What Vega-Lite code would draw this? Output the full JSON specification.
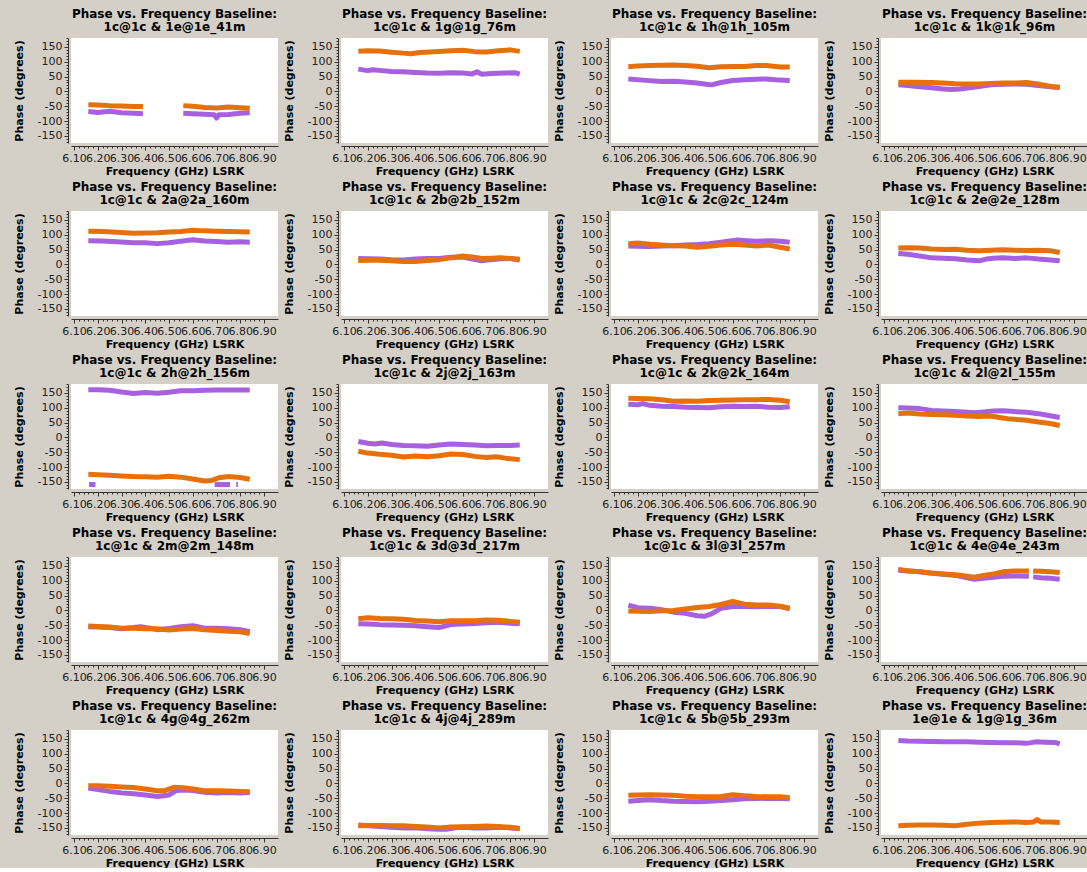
{
"$schema": "https://vega.github.io/schema/vega-lite/v6.json",
"background": "#d4d0c8",
"padding": {"left": 13, "top": 7, "right": 0, "bottom": 0},
"data": {"values": [
{"n":"1c@1c & 1e@1e_41m","c":"P","g":1,"f":6.16,"v":-68},{"n":"1c@1c & 1e@1e_41m","c":"P","g":1,"f":6.20,"v":-71},{"n":"1c@1c & 1e@1e_41m","c":"P","g":1,"f":6.25,"v":-67},{"n":"1c@1c & 1e@1e_41m","c":"P","g":1,"f":6.30,"v":-72},{"n":"1c@1c & 1e@1e_41m","c":"P","g":1,"f":6.35,"v":-74},{"n":"1c@1c & 1e@1e_41m","c":"P","g":1,"f":6.39,"v":-75},
{"n":"1c@1c & 1e@1e_41m","c":"P","g":2,"f":6.56,"v":-74},{"n":"1c@1c & 1e@1e_41m","c":"P","g":2,"f":6.60,"v":-75},{"n":"1c@1c & 1e@1e_41m","c":"P","g":2,"f":6.65,"v":-77},{"n":"1c@1c & 1e@1e_41m","c":"P","g":2,"f":6.69,"v":-79},{"n":"1c@1c & 1e@1e_41m","c":"P","g":2,"f":6.70,"v":-90},{"n":"1c@1c & 1e@1e_41m","c":"P","g":2,"f":6.71,"v":-79},{"n":"1c@1c & 1e@1e_41m","c":"P","g":2,"f":6.75,"v":-78},{"n":"1c@1c & 1e@1e_41m","c":"P","g":2,"f":6.80,"v":-74},{"n":"1c@1c & 1e@1e_41m","c":"P","g":2,"f":6.84,"v":-72},
{"n":"1c@1c & 1e@1e_41m","c":"O","g":1,"f":6.16,"v":-45},{"n":"1c@1c & 1e@1e_41m","c":"O","g":1,"f":6.20,"v":-46},{"n":"1c@1c & 1e@1e_41m","c":"O","g":1,"f":6.25,"v":-48},{"n":"1c@1c & 1e@1e_41m","c":"O","g":1,"f":6.30,"v":-49},{"n":"1c@1c & 1e@1e_41m","c":"O","g":1,"f":6.35,"v":-51},{"n":"1c@1c & 1e@1e_41m","c":"O","g":1,"f":6.39,"v":-51},
{"n":"1c@1c & 1e@1e_41m","c":"O","g":2,"f":6.56,"v":-48},{"n":"1c@1c & 1e@1e_41m","c":"O","g":2,"f":6.60,"v":-50},{"n":"1c@1c & 1e@1e_41m","c":"O","g":2,"f":6.65,"v":-54},{"n":"1c@1c & 1e@1e_41m","c":"O","g":2,"f":6.70,"v":-56},{"n":"1c@1c & 1e@1e_41m","c":"O","g":2,"f":6.75,"v":-53},{"n":"1c@1c & 1e@1e_41m","c":"O","g":2,"f":6.80,"v":-55},{"n":"1c@1c & 1e@1e_41m","c":"O","g":2,"f":6.84,"v":-57},

{"n":"1c@1c & 1g@1g_76m","c":"P","f":6.16,"v":75},{"n":"1c@1c & 1g@1g_76m","c":"P","f":6.20,"v":70},{"n":"1c@1c & 1g@1g_76m","c":"P","f":6.22,"v":73},{"n":"1c@1c & 1g@1g_76m","c":"P","f":6.26,"v":70},{"n":"1c@1c & 1g@1g_76m","c":"P","f":6.30,"v":67},{"n":"1c@1c & 1g@1g_76m","c":"P","f":6.35,"v":66},{"n":"1c@1c & 1g@1g_76m","c":"P","f":6.40,"v":64},{"n":"1c@1c & 1g@1g_76m","c":"P","f":6.45,"v":62},{"n":"1c@1c & 1g@1g_76m","c":"P","f":6.50,"v":61},{"n":"1c@1c & 1g@1g_76m","c":"P","f":6.55,"v":63},{"n":"1c@1c & 1g@1g_76m","c":"P","f":6.60,"v":62},{"n":"1c@1c & 1g@1g_76m","c":"P","f":6.64,"v":59},{"n":"1c@1c & 1g@1g_76m","c":"P","f":6.66,"v":66},{"n":"1c@1c & 1g@1g_76m","c":"P","f":6.68,"v":58},{"n":"1c@1c & 1g@1g_76m","c":"P","f":6.72,"v":60},{"n":"1c@1c & 1g@1g_76m","c":"P","f":6.78,"v":62},{"n":"1c@1c & 1g@1g_76m","c":"P","f":6.82,"v":63},{"n":"1c@1c & 1g@1g_76m","c":"P","f":6.84,"v":58},
{"n":"1c@1c & 1g@1g_76m","c":"O","f":6.16,"v":135},{"n":"1c@1c & 1g@1g_76m","c":"O","f":6.20,"v":137},{"n":"1c@1c & 1g@1g_76m","c":"O","f":6.25,"v":136},{"n":"1c@1c & 1g@1g_76m","c":"O","f":6.30,"v":132},{"n":"1c@1c & 1g@1g_76m","c":"O","f":6.35,"v":129},{"n":"1c@1c & 1g@1g_76m","c":"O","f":6.38,"v":127},{"n":"1c@1c & 1g@1g_76m","c":"O","f":6.42,"v":131},{"n":"1c@1c & 1g@1g_76m","c":"O","f":6.48,"v":134},{"n":"1c@1c & 1g@1g_76m","c":"O","f":6.55,"v":137},{"n":"1c@1c & 1g@1g_76m","c":"O","f":6.60,"v":139},{"n":"1c@1c & 1g@1g_76m","c":"O","f":6.65,"v":134},{"n":"1c@1c & 1g@1g_76m","c":"O","f":6.70,"v":133},{"n":"1c@1c & 1g@1g_76m","c":"O","f":6.75,"v":137},{"n":"1c@1c & 1g@1g_76m","c":"O","f":6.80,"v":140},{"n":"1c@1c & 1g@1g_76m","c":"O","f":6.84,"v":135},

{"n":"1c@1c & 1h@1h_105m","c":"P","f":6.16,"v":42},{"n":"1c@1c & 1h@1h_105m","c":"P","f":6.22,"v":38},{"n":"1c@1c & 1h@1h_105m","c":"P","f":6.30,"v":33},{"n":"1c@1c & 1h@1h_105m","c":"P","f":6.35,"v":34},{"n":"1c@1c & 1h@1h_105m","c":"P","f":6.40,"v":32},{"n":"1c@1c & 1h@1h_105m","c":"P","f":6.45,"v":28},{"n":"1c@1c & 1h@1h_105m","c":"P","f":6.48,"v":25},{"n":"1c@1c & 1h@1h_105m","c":"P","f":6.51,"v":22},{"n":"1c@1c & 1h@1h_105m","c":"P","f":6.55,"v":30},{"n":"1c@1c & 1h@1h_105m","c":"P","f":6.60,"v":37},{"n":"1c@1c & 1h@1h_105m","c":"P","f":6.65,"v":39},{"n":"1c@1c & 1h@1h_105m","c":"P","f":6.70,"v":41},{"n":"1c@1c & 1h@1h_105m","c":"P","f":6.74,"v":42},{"n":"1c@1c & 1h@1h_105m","c":"P","f":6.78,"v":39},{"n":"1c@1c & 1h@1h_105m","c":"P","f":6.84,"v":37},
{"n":"1c@1c & 1h@1h_105m","c":"O","f":6.16,"v":83},{"n":"1c@1c & 1h@1h_105m","c":"O","f":6.20,"v":86},{"n":"1c@1c & 1h@1h_105m","c":"O","f":6.25,"v":87},{"n":"1c@1c & 1h@1h_105m","c":"O","f":6.30,"v":88},{"n":"1c@1c & 1h@1h_105m","c":"O","f":6.35,"v":89},{"n":"1c@1c & 1h@1h_105m","c":"O","f":6.40,"v":87},{"n":"1c@1c & 1h@1h_105m","c":"O","f":6.45,"v":85},{"n":"1c@1c & 1h@1h_105m","c":"O","f":6.50,"v":80},{"n":"1c@1c & 1h@1h_105m","c":"O","f":6.55,"v":83},{"n":"1c@1c & 1h@1h_105m","c":"O","f":6.60,"v":84},{"n":"1c@1c & 1h@1h_105m","c":"O","f":6.65,"v":84},{"n":"1c@1c & 1h@1h_105m","c":"O","f":6.70,"v":87},{"n":"1c@1c & 1h@1h_105m","c":"O","f":6.74,"v":87},{"n":"1c@1c & 1h@1h_105m","c":"O","f":6.80,"v":82},{"n":"1c@1c & 1h@1h_105m","c":"O","f":6.84,"v":82},

{"n":"1c@1c & 1k@1k_96m","c":"P","f":6.16,"v":22},{"n":"1c@1c & 1k@1k_96m","c":"P","f":6.20,"v":20},{"n":"1c@1c & 1k@1k_96m","c":"P","f":6.25,"v":16},{"n":"1c@1c & 1k@1k_96m","c":"P","f":6.30,"v":12},{"n":"1c@1c & 1k@1k_96m","c":"P","f":6.35,"v":8},{"n":"1c@1c & 1k@1k_96m","c":"P","f":6.38,"v":6},{"n":"1c@1c & 1k@1k_96m","c":"P","f":6.42,"v":8},{"n":"1c@1c & 1k@1k_96m","c":"P","f":6.46,"v":12},{"n":"1c@1c & 1k@1k_96m","c":"P","f":6.50,"v":16},{"n":"1c@1c & 1k@1k_96m","c":"P","f":6.55,"v":22},{"n":"1c@1c & 1k@1k_96m","c":"P","f":6.60,"v":24},{"n":"1c@1c & 1k@1k_96m","c":"P","f":6.65,"v":25},{"n":"1c@1c & 1k@1k_96m","c":"P","f":6.70,"v":24},{"n":"1c@1c & 1k@1k_96m","c":"P","f":6.75,"v":20},{"n":"1c@1c & 1k@1k_96m","c":"P","f":6.80,"v":16},{"n":"1c@1c & 1k@1k_96m","c":"P","f":6.84,"v":13},
{"n":"1c@1c & 1k@1k_96m","c":"O","f":6.16,"v":31},{"n":"1c@1c & 1k@1k_96m","c":"O","f":6.22,"v":31},{"n":"1c@1c & 1k@1k_96m","c":"O","f":6.30,"v":30},{"n":"1c@1c & 1k@1k_96m","c":"O","f":6.35,"v":28},{"n":"1c@1c & 1k@1k_96m","c":"O","f":6.40,"v":26},{"n":"1c@1c & 1k@1k_96m","c":"O","f":6.45,"v":25},{"n":"1c@1c & 1k@1k_96m","c":"O","f":6.50,"v":25},{"n":"1c@1c & 1k@1k_96m","c":"O","f":6.55,"v":27},{"n":"1c@1c & 1k@1k_96m","c":"O","f":6.60,"v":28},{"n":"1c@1c & 1k@1k_96m","c":"O","f":6.65,"v":28},{"n":"1c@1c & 1k@1k_96m","c":"O","f":6.70,"v":30},{"n":"1c@1c & 1k@1k_96m","c":"O","f":6.74,"v":26},{"n":"1c@1c & 1k@1k_96m","c":"O","f":6.78,"v":20},{"n":"1c@1c & 1k@1k_96m","c":"O","f":6.81,"v":16},{"n":"1c@1c & 1k@1k_96m","c":"O","f":6.84,"v":14},

{"n":"1c@1c & 2a@2a_160m","c":"P","f":6.16,"v":80},{"n":"1c@1c & 2a@2a_160m","c":"P","f":6.22,"v":79},{"n":"1c@1c & 2a@2a_160m","c":"P","f":6.28,"v":76},{"n":"1c@1c & 2a@2a_160m","c":"P","f":6.35,"v":73},{"n":"1c@1c & 2a@2a_160m","c":"P","f":6.40,"v":73},{"n":"1c@1c & 2a@2a_160m","c":"P","f":6.45,"v":70},{"n":"1c@1c & 2a@2a_160m","c":"P","f":6.50,"v":73},{"n":"1c@1c & 2a@2a_160m","c":"P","f":6.55,"v":78},{"n":"1c@1c & 2a@2a_160m","c":"P","f":6.60,"v":83},{"n":"1c@1c & 2a@2a_160m","c":"P","f":6.65,"v":79},{"n":"1c@1c & 2a@2a_160m","c":"P","f":6.70,"v":77},{"n":"1c@1c & 2a@2a_160m","c":"P","f":6.75,"v":75},{"n":"1c@1c & 2a@2a_160m","c":"P","f":6.80,"v":76},{"n":"1c@1c & 2a@2a_160m","c":"P","f":6.84,"v":75},
{"n":"1c@1c & 2a@2a_160m","c":"O","f":6.16,"v":112},{"n":"1c@1c & 2a@2a_160m","c":"O","f":6.22,"v":111},{"n":"1c@1c & 2a@2a_160m","c":"O","f":6.28,"v":108},{"n":"1c@1c & 2a@2a_160m","c":"O","f":6.35,"v":105},{"n":"1c@1c & 2a@2a_160m","c":"O","f":6.40,"v":106},{"n":"1c@1c & 2a@2a_160m","c":"O","f":6.45,"v":107},{"n":"1c@1c & 2a@2a_160m","c":"O","f":6.50,"v":109},{"n":"1c@1c & 2a@2a_160m","c":"O","f":6.55,"v":111},{"n":"1c@1c & 2a@2a_160m","c":"O","f":6.60,"v":115},{"n":"1c@1c & 2a@2a_160m","c":"O","f":6.65,"v":113},{"n":"1c@1c & 2a@2a_160m","c":"O","f":6.70,"v":112},{"n":"1c@1c & 2a@2a_160m","c":"O","f":6.75,"v":111},{"n":"1c@1c & 2a@2a_160m","c":"O","f":6.80,"v":110},{"n":"1c@1c & 2a@2a_160m","c":"O","f":6.84,"v":109},

{"n":"1c@1c & 2b@2b_152m","c":"P","f":6.16,"v":20},{"n":"1c@1c & 2b@2b_152m","c":"P","f":6.20,"v":19},{"n":"1c@1c & 2b@2b_152m","c":"P","f":6.25,"v":18},{"n":"1c@1c & 2b@2b_152m","c":"P","f":6.30,"v":16},{"n":"1c@1c & 2b@2b_152m","c":"P","f":6.35,"v":15},{"n":"1c@1c & 2b@2b_152m","c":"P","f":6.40,"v":18},{"n":"1c@1c & 2b@2b_152m","c":"P","f":6.45,"v":20},{"n":"1c@1c & 2b@2b_152m","c":"P","f":6.50,"v":20},{"n":"1c@1c & 2b@2b_152m","c":"P","f":6.55,"v":24},{"n":"1c@1c & 2b@2b_152m","c":"P","f":6.60,"v":25},{"n":"1c@1c & 2b@2b_152m","c":"P","f":6.64,"v":18},{"n":"1c@1c & 2b@2b_152m","c":"P","f":6.68,"v":12},{"n":"1c@1c & 2b@2b_152m","c":"P","f":6.72,"v":16},{"n":"1c@1c & 2b@2b_152m","c":"P","f":6.76,"v":19},{"n":"1c@1c & 2b@2b_152m","c":"P","f":6.80,"v":20},{"n":"1c@1c & 2b@2b_152m","c":"P","f":6.84,"v":15},
{"n":"1c@1c & 2b@2b_152m","c":"O","f":6.16,"v":13},{"n":"1c@1c & 2b@2b_152m","c":"O","f":6.20,"v":14},{"n":"1c@1c & 2b@2b_152m","c":"O","f":6.25,"v":14},{"n":"1c@1c & 2b@2b_152m","c":"O","f":6.30,"v":12},{"n":"1c@1c & 2b@2b_152m","c":"O","f":6.35,"v":10},{"n":"1c@1c & 2b@2b_152m","c":"O","f":6.40,"v":10},{"n":"1c@1c & 2b@2b_152m","c":"O","f":6.45,"v":13},{"n":"1c@1c & 2b@2b_152m","c":"O","f":6.50,"v":16},{"n":"1c@1c & 2b@2b_152m","c":"O","f":6.55,"v":22},{"n":"1c@1c & 2b@2b_152m","c":"O","f":6.60,"v":28},{"n":"1c@1c & 2b@2b_152m","c":"O","f":6.64,"v":25},{"n":"1c@1c & 2b@2b_152m","c":"O","f":6.68,"v":20},{"n":"1c@1c & 2b@2b_152m","c":"O","f":6.72,"v":21},{"n":"1c@1c & 2b@2b_152m","c":"O","f":6.76,"v":22},{"n":"1c@1c & 2b@2b_152m","c":"O","f":6.80,"v":20},{"n":"1c@1c & 2b@2b_152m","c":"O","f":6.84,"v":17},

{"n":"1c@1c & 2c@2c_124m","c":"P","f":6.16,"v":62},{"n":"1c@1c & 2c@2c_124m","c":"P","f":6.20,"v":61},{"n":"1c@1c & 2c@2c_124m","c":"P","f":6.25,"v":60},{"n":"1c@1c & 2c@2c_124m","c":"P","f":6.30,"v":62},{"n":"1c@1c & 2c@2c_124m","c":"P","f":6.35,"v":63},{"n":"1c@1c & 2c@2c_124m","c":"P","f":6.40,"v":65},{"n":"1c@1c & 2c@2c_124m","c":"P","f":6.45,"v":67},{"n":"1c@1c & 2c@2c_124m","c":"P","f":6.50,"v":70},{"n":"1c@1c & 2c@2c_124m","c":"P","f":6.55,"v":75},{"n":"1c@1c & 2c@2c_124m","c":"P","f":6.58,"v":78},{"n":"1c@1c & 2c@2c_124m","c":"P","f":6.62,"v":82},{"n":"1c@1c & 2c@2c_124m","c":"P","f":6.66,"v":80},{"n":"1c@1c & 2c@2c_124m","c":"P","f":6.70,"v":78},{"n":"1c@1c & 2c@2c_124m","c":"P","f":6.76,"v":80},{"n":"1c@1c & 2c@2c_124m","c":"P","f":6.80,"v":78},{"n":"1c@1c & 2c@2c_124m","c":"P","f":6.84,"v":75},
{"n":"1c@1c & 2c@2c_124m","c":"O","f":6.16,"v":70},{"n":"1c@1c & 2c@2c_124m","c":"O","f":6.20,"v":72},{"n":"1c@1c & 2c@2c_124m","c":"O","f":6.25,"v":68},{"n":"1c@1c & 2c@2c_124m","c":"O","f":6.30,"v":65},{"n":"1c@1c & 2c@2c_124m","c":"O","f":6.35,"v":63},{"n":"1c@1c & 2c@2c_124m","c":"O","f":6.40,"v":62},{"n":"1c@1c & 2c@2c_124m","c":"O","f":6.45,"v":58},{"n":"1c@1c & 2c@2c_124m","c":"O","f":6.50,"v":61},{"n":"1c@1c & 2c@2c_124m","c":"O","f":6.55,"v":65},{"n":"1c@1c & 2c@2c_124m","c":"O","f":6.60,"v":68},{"n":"1c@1c & 2c@2c_124m","c":"O","f":6.65,"v":65},{"n":"1c@1c & 2c@2c_124m","c":"O","f":6.70,"v":62},{"n":"1c@1c & 2c@2c_124m","c":"O","f":6.75,"v":65},{"n":"1c@1c & 2c@2c_124m","c":"O","f":6.80,"v":58},{"n":"1c@1c & 2c@2c_124m","c":"O","f":6.84,"v":52},

{"n":"1c@1c & 2e@2e_128m","c":"P","f":6.16,"v":37},{"n":"1c@1c & 2e@2e_128m","c":"P","f":6.20,"v":34},{"n":"1c@1c & 2e@2e_128m","c":"P","f":6.25,"v":28},{"n":"1c@1c & 2e@2e_128m","c":"P","f":6.30,"v":22},{"n":"1c@1c & 2e@2e_128m","c":"P","f":6.35,"v":21},{"n":"1c@1c & 2e@2e_128m","c":"P","f":6.40,"v":19},{"n":"1c@1c & 2e@2e_128m","c":"P","f":6.45,"v":15},{"n":"1c@1c & 2e@2e_128m","c":"P","f":6.50,"v":12},{"n":"1c@1c & 2e@2e_128m","c":"P","f":6.53,"v":18},{"n":"1c@1c & 2e@2e_128m","c":"P","f":6.56,"v":21},{"n":"1c@1c & 2e@2e_128m","c":"P","f":6.60,"v":22},{"n":"1c@1c & 2e@2e_128m","c":"P","f":6.65,"v":20},{"n":"1c@1c & 2e@2e_128m","c":"P","f":6.70,"v":22},{"n":"1c@1c & 2e@2e_128m","c":"P","f":6.75,"v":18},{"n":"1c@1c & 2e@2e_128m","c":"P","f":6.80,"v":15},{"n":"1c@1c & 2e@2e_128m","c":"P","f":6.84,"v":12},
{"n":"1c@1c & 2e@2e_128m","c":"O","f":6.16,"v":55},{"n":"1c@1c & 2e@2e_128m","c":"O","f":6.20,"v":56},{"n":"1c@1c & 2e@2e_128m","c":"O","f":6.25,"v":55},{"n":"1c@1c & 2e@2e_128m","c":"O","f":6.30,"v":52},{"n":"1c@1c & 2e@2e_128m","c":"O","f":6.35,"v":50},{"n":"1c@1c & 2e@2e_128m","c":"O","f":6.40,"v":51},{"n":"1c@1c & 2e@2e_128m","c":"O","f":6.45,"v":48},{"n":"1c@1c & 2e@2e_128m","c":"O","f":6.50,"v":46},{"n":"1c@1c & 2e@2e_128m","c":"O","f":6.55,"v":48},{"n":"1c@1c & 2e@2e_128m","c":"O","f":6.60,"v":49},{"n":"1c@1c & 2e@2e_128m","c":"O","f":6.65,"v":48},{"n":"1c@1c & 2e@2e_128m","c":"O","f":6.70,"v":47},{"n":"1c@1c & 2e@2e_128m","c":"O","f":6.75,"v":48},{"n":"1c@1c & 2e@2e_128m","c":"O","f":6.80,"v":46},{"n":"1c@1c & 2e@2e_128m","c":"O","f":6.84,"v":40},

{"n":"1c@1c & 2h@2h_156m","c":"P","g":1,"f":6.16,"v":161},{"n":"1c@1c & 2h@2h_156m","c":"P","g":1,"f":6.20,"v":161},{"n":"1c@1c & 2h@2h_156m","c":"P","g":1,"f":6.25,"v":159},{"n":"1c@1c & 2h@2h_156m","c":"P","g":1,"f":6.30,"v":153},{"n":"1c@1c & 2h@2h_156m","c":"P","g":1,"f":6.35,"v":148},{"n":"1c@1c & 2h@2h_156m","c":"P","g":1,"f":6.40,"v":151},{"n":"1c@1c & 2h@2h_156m","c":"P","g":1,"f":6.45,"v":149},{"n":"1c@1c & 2h@2h_156m","c":"P","g":1,"f":6.50,"v":152},{"n":"1c@1c & 2h@2h_156m","c":"P","g":1,"f":6.55,"v":157},{"n":"1c@1c & 2h@2h_156m","c":"P","g":1,"f":6.60,"v":157},{"n":"1c@1c & 2h@2h_156m","c":"P","g":1,"f":6.65,"v":159},{"n":"1c@1c & 2h@2h_156m","c":"P","g":1,"f":6.70,"v":160},{"n":"1c@1c & 2h@2h_156m","c":"P","g":1,"f":6.75,"v":160},{"n":"1c@1c & 2h@2h_156m","c":"P","g":1,"f":6.80,"v":160},{"n":"1c@1c & 2h@2h_156m","c":"P","g":1,"f":6.84,"v":160},
{"n":"1c@1c & 2h@2h_156m","c":"P","g":2,"f":6.163,"v":-159},{"n":"1c@1c & 2h@2h_156m","c":"P","g":2,"f":6.19,"v":-159},
{"n":"1c@1c & 2h@2h_156m","c":"P","g":3,"f":6.692,"v":-159},{"n":"1c@1c & 2h@2h_156m","c":"P","g":3,"f":6.757,"v":-159},
{"n":"1c@1c & 2h@2h_156m","c":"P","g":4,"f":6.783,"v":-159},{"n":"1c@1c & 2h@2h_156m","c":"P","g":4,"f":6.79,"v":-159},
{"n":"1c@1c & 2h@2h_156m","c":"O","g":1,"f":6.16,"v":-124},{"n":"1c@1c & 2h@2h_156m","c":"O","g":1,"f":6.20,"v":-126},{"n":"1c@1c & 2h@2h_156m","c":"O","g":1,"f":6.25,"v":-128},{"n":"1c@1c & 2h@2h_156m","c":"O","g":1,"f":6.30,"v":-130},{"n":"1c@1c & 2h@2h_156m","c":"O","g":1,"f":6.35,"v":-132},{"n":"1c@1c & 2h@2h_156m","c":"O","g":1,"f":6.40,"v":-133},{"n":"1c@1c & 2h@2h_156m","c":"O","g":1,"f":6.45,"v":-134},{"n":"1c@1c & 2h@2h_156m","c":"O","g":1,"f":6.50,"v":-131},{"n":"1c@1c & 2h@2h_156m","c":"O","g":1,"f":6.55,"v":-134},{"n":"1c@1c & 2h@2h_156m","c":"O","g":1,"f":6.60,"v":-140},{"n":"1c@1c & 2h@2h_156m","c":"O","g":1,"f":6.65,"v":-147},{"n":"1c@1c & 2h@2h_156m","c":"O","g":1,"f":6.68,"v":-145},{"n":"1c@1c & 2h@2h_156m","c":"O","g":1,"f":6.71,"v":-136},{"n":"1c@1c & 2h@2h_156m","c":"O","g":1,"f":6.75,"v":-132},{"n":"1c@1c & 2h@2h_156m","c":"O","g":1,"f":6.80,"v":-135},{"n":"1c@1c & 2h@2h_156m","c":"O","g":1,"f":6.84,"v":-141},

{"n":"1c@1c & 2j@2j_163m","c":"P","f":6.16,"v":-14},{"n":"1c@1c & 2j@2j_163m","c":"P","f":6.20,"v":-20},{"n":"1c@1c & 2j@2j_163m","c":"P","f":6.23,"v":-22},{"n":"1c@1c & 2j@2j_163m","c":"P","f":6.26,"v":-19},{"n":"1c@1c & 2j@2j_163m","c":"P","f":6.30,"v":-24},{"n":"1c@1c & 2j@2j_163m","c":"P","f":6.35,"v":-27},{"n":"1c@1c & 2j@2j_163m","c":"P","f":6.40,"v":-28},{"n":"1c@1c & 2j@2j_163m","c":"P","f":6.45,"v":-30},{"n":"1c@1c & 2j@2j_163m","c":"P","f":6.50,"v":-26},{"n":"1c@1c & 2j@2j_163m","c":"P","f":6.55,"v":-22},{"n":"1c@1c & 2j@2j_163m","c":"P","f":6.60,"v":-24},{"n":"1c@1c & 2j@2j_163m","c":"P","f":6.65,"v":-26},{"n":"1c@1c & 2j@2j_163m","c":"P","f":6.70,"v":-28},{"n":"1c@1c & 2j@2j_163m","c":"P","f":6.75,"v":-27},{"n":"1c@1c & 2j@2j_163m","c":"P","f":6.80,"v":-27},{"n":"1c@1c & 2j@2j_163m","c":"P","f":6.84,"v":-26},
{"n":"1c@1c & 2j@2j_163m","c":"O","f":6.16,"v":-47},{"n":"1c@1c & 2j@2j_163m","c":"O","f":6.20,"v":-53},{"n":"1c@1c & 2j@2j_163m","c":"O","f":6.25,"v":-57},{"n":"1c@1c & 2j@2j_163m","c":"O","f":6.30,"v":-60},{"n":"1c@1c & 2j@2j_163m","c":"O","f":6.35,"v":-66},{"n":"1c@1c & 2j@2j_163m","c":"O","f":6.40,"v":-63},{"n":"1c@1c & 2j@2j_163m","c":"O","f":6.45,"v":-65},{"n":"1c@1c & 2j@2j_163m","c":"O","f":6.50,"v":-62},{"n":"1c@1c & 2j@2j_163m","c":"O","f":6.55,"v":-56},{"n":"1c@1c & 2j@2j_163m","c":"O","f":6.60,"v":-58},{"n":"1c@1c & 2j@2j_163m","c":"O","f":6.65,"v":-64},{"n":"1c@1c & 2j@2j_163m","c":"O","f":6.70,"v":-68},{"n":"1c@1c & 2j@2j_163m","c":"O","f":6.74,"v":-65},{"n":"1c@1c & 2j@2j_163m","c":"O","f":6.78,"v":-70},{"n":"1c@1c & 2j@2j_163m","c":"O","f":6.84,"v":-75},

{"n":"1c@1c & 2k@2k_164m","c":"P","f":6.16,"v":112},{"n":"1c@1c & 2k@2k_164m","c":"P","f":6.20,"v":110},{"n":"1c@1c & 2k@2k_164m","c":"P","f":6.22,"v":114},{"n":"1c@1c & 2k@2k_164m","c":"P","f":6.25,"v":108},{"n":"1c@1c & 2k@2k_164m","c":"P","f":6.30,"v":105},{"n":"1c@1c & 2k@2k_164m","c":"P","f":6.35,"v":104},{"n":"1c@1c & 2k@2k_164m","c":"P","f":6.40,"v":102},{"n":"1c@1c & 2k@2k_164m","c":"P","f":6.45,"v":101},{"n":"1c@1c & 2k@2k_164m","c":"P","f":6.50,"v":100},{"n":"1c@1c & 2k@2k_164m","c":"P","f":6.55,"v":103},{"n":"1c@1c & 2k@2k_164m","c":"P","f":6.60,"v":105},{"n":"1c@1c & 2k@2k_164m","c":"P","f":6.65,"v":104},{"n":"1c@1c & 2k@2k_164m","c":"P","f":6.70,"v":105},{"n":"1c@1c & 2k@2k_164m","c":"P","f":6.75,"v":102},{"n":"1c@1c & 2k@2k_164m","c":"P","f":6.80,"v":101},{"n":"1c@1c & 2k@2k_164m","c":"P","f":6.84,"v":103},
{"n":"1c@1c & 2k@2k_164m","c":"O","f":6.16,"v":132},{"n":"1c@1c & 2k@2k_164m","c":"O","f":6.20,"v":131},{"n":"1c@1c & 2k@2k_164m","c":"O","f":6.25,"v":130},{"n":"1c@1c & 2k@2k_164m","c":"O","f":6.30,"v":127},{"n":"1c@1c & 2k@2k_164m","c":"O","f":6.35,"v":122},{"n":"1c@1c & 2k@2k_164m","c":"O","f":6.40,"v":123},{"n":"1c@1c & 2k@2k_164m","c":"O","f":6.45,"v":122},{"n":"1c@1c & 2k@2k_164m","c":"O","f":6.50,"v":124},{"n":"1c@1c & 2k@2k_164m","c":"O","f":6.55,"v":125},{"n":"1c@1c & 2k@2k_164m","c":"O","f":6.60,"v":126},{"n":"1c@1c & 2k@2k_164m","c":"O","f":6.65,"v":127},{"n":"1c@1c & 2k@2k_164m","c":"O","f":6.70,"v":127},{"n":"1c@1c & 2k@2k_164m","c":"O","f":6.75,"v":128},{"n":"1c@1c & 2k@2k_164m","c":"O","f":6.80,"v":125},{"n":"1c@1c & 2k@2k_164m","c":"O","f":6.84,"v":120},

{"n":"1c@1c & 2l@2l_155m","c":"P","f":6.16,"v":100},{"n":"1c@1c & 2l@2l_155m","c":"P","f":6.20,"v":99},{"n":"1c@1c & 2l@2l_155m","c":"P","f":6.25,"v":97},{"n":"1c@1c & 2l@2l_155m","c":"P","f":6.30,"v":91},{"n":"1c@1c & 2l@2l_155m","c":"P","f":6.35,"v":89},{"n":"1c@1c & 2l@2l_155m","c":"P","f":6.40,"v":87},{"n":"1c@1c & 2l@2l_155m","c":"P","f":6.45,"v":85},{"n":"1c@1c & 2l@2l_155m","c":"P","f":6.48,"v":83},{"n":"1c@1c & 2l@2l_155m","c":"P","f":6.52,"v":86},{"n":"1c@1c & 2l@2l_155m","c":"P","f":6.56,"v":89},{"n":"1c@1c & 2l@2l_155m","c":"P","f":6.60,"v":90},{"n":"1c@1c & 2l@2l_155m","c":"P","f":6.65,"v":87},{"n":"1c@1c & 2l@2l_155m","c":"P","f":6.70,"v":85},{"n":"1c@1c & 2l@2l_155m","c":"P","f":6.75,"v":80},{"n":"1c@1c & 2l@2l_155m","c":"P","f":6.80,"v":73},{"n":"1c@1c & 2l@2l_155m","c":"P","f":6.84,"v":67},
{"n":"1c@1c & 2l@2l_155m","c":"O","f":6.16,"v":80},{"n":"1c@1c & 2l@2l_155m","c":"O","f":6.20,"v":82},{"n":"1c@1c & 2l@2l_155m","c":"O","f":6.25,"v":79},{"n":"1c@1c & 2l@2l_155m","c":"O","f":6.30,"v":77},{"n":"1c@1c & 2l@2l_155m","c":"O","f":6.35,"v":76},{"n":"1c@1c & 2l@2l_155m","c":"O","f":6.40,"v":75},{"n":"1c@1c & 2l@2l_155m","c":"O","f":6.45,"v":72},{"n":"1c@1c & 2l@2l_155m","c":"O","f":6.50,"v":70},{"n":"1c@1c & 2l@2l_155m","c":"O","f":6.55,"v":72},{"n":"1c@1c & 2l@2l_155m","c":"O","f":6.58,"v":68},{"n":"1c@1c & 2l@2l_155m","c":"O","f":6.62,"v":63},{"n":"1c@1c & 2l@2l_155m","c":"O","f":6.66,"v":60},{"n":"1c@1c & 2l@2l_155m","c":"O","f":6.70,"v":58},{"n":"1c@1c & 2l@2l_155m","c":"O","f":6.75,"v":52},{"n":"1c@1c & 2l@2l_155m","c":"O","f":6.80,"v":47},{"n":"1c@1c & 2l@2l_155m","c":"O","f":6.84,"v":40},

{"n":"1c@1c & 2m@2m_148m","c":"P","f":6.16,"v":-55},{"n":"1c@1c & 2m@2m_148m","c":"P","f":6.20,"v":-56},{"n":"1c@1c & 2m@2m_148m","c":"P","f":6.25,"v":-58},{"n":"1c@1c & 2m@2m_148m","c":"P","f":6.30,"v":-62},{"n":"1c@1c & 2m@2m_148m","c":"P","f":6.35,"v":-58},{"n":"1c@1c & 2m@2m_148m","c":"P","f":6.38,"v":-55},{"n":"1c@1c & 2m@2m_148m","c":"P","f":6.42,"v":-60},{"n":"1c@1c & 2m@2m_148m","c":"P","f":6.45,"v":-65},{"n":"1c@1c & 2m@2m_148m","c":"P","f":6.50,"v":-61},{"n":"1c@1c & 2m@2m_148m","c":"P","f":6.55,"v":-55},{"n":"1c@1c & 2m@2m_148m","c":"P","f":6.60,"v":-52},{"n":"1c@1c & 2m@2m_148m","c":"P","f":6.65,"v":-60},{"n":"1c@1c & 2m@2m_148m","c":"P","f":6.70,"v":-60},{"n":"1c@1c & 2m@2m_148m","c":"P","f":6.75,"v":-62},{"n":"1c@1c & 2m@2m_148m","c":"P","f":6.80,"v":-65},{"n":"1c@1c & 2m@2m_148m","c":"P","f":6.84,"v":-72},
{"n":"1c@1c & 2m@2m_148m","c":"O","f":6.16,"v":-53},{"n":"1c@1c & 2m@2m_148m","c":"O","f":6.20,"v":-54},{"n":"1c@1c & 2m@2m_148m","c":"O","f":6.25,"v":-56},{"n":"1c@1c & 2m@2m_148m","c":"O","f":6.30,"v":-60},{"n":"1c@1c & 2m@2m_148m","c":"O","f":6.35,"v":-60},{"n":"1c@1c & 2m@2m_148m","c":"O","f":6.40,"v":-62},{"n":"1c@1c & 2m@2m_148m","c":"O","f":6.45,"v":-62},{"n":"1c@1c & 2m@2m_148m","c":"O","f":6.50,"v":-66},{"n":"1c@1c & 2m@2m_148m","c":"O","f":6.55,"v":-63},{"n":"1c@1c & 2m@2m_148m","c":"O","f":6.60,"v":-61},{"n":"1c@1c & 2m@2m_148m","c":"O","f":6.65,"v":-65},{"n":"1c@1c & 2m@2m_148m","c":"O","f":6.70,"v":-68},{"n":"1c@1c & 2m@2m_148m","c":"O","f":6.75,"v":-70},{"n":"1c@1c & 2m@2m_148m","c":"O","f":6.80,"v":-72},{"n":"1c@1c & 2m@2m_148m","c":"O","f":6.84,"v":-78},

{"n":"1c@1c & 3d@3d_217m","c":"P","f":6.16,"v":-45},{"n":"1c@1c & 3d@3d_217m","c":"P","f":6.20,"v":-46},{"n":"1c@1c & 3d@3d_217m","c":"P","f":6.25,"v":-48},{"n":"1c@1c & 3d@3d_217m","c":"P","f":6.30,"v":-49},{"n":"1c@1c & 3d@3d_217m","c":"P","f":6.35,"v":-50},{"n":"1c@1c & 3d@3d_217m","c":"P","f":6.40,"v":-52},{"n":"1c@1c & 3d@3d_217m","c":"P","f":6.45,"v":-55},{"n":"1c@1c & 3d@3d_217m","c":"P","f":6.50,"v":-58},{"n":"1c@1c & 3d@3d_217m","c":"P","f":6.55,"v":-48},{"n":"1c@1c & 3d@3d_217m","c":"P","f":6.60,"v":-46},{"n":"1c@1c & 3d@3d_217m","c":"P","f":6.65,"v":-44},{"n":"1c@1c & 3d@3d_217m","c":"P","f":6.70,"v":-42},{"n":"1c@1c & 3d@3d_217m","c":"P","f":6.75,"v":-40},{"n":"1c@1c & 3d@3d_217m","c":"P","f":6.80,"v":-43},{"n":"1c@1c & 3d@3d_217m","c":"P","f":6.84,"v":-45},
{"n":"1c@1c & 3d@3d_217m","c":"O","f":6.16,"v":-28},{"n":"1c@1c & 3d@3d_217m","c":"O","f":6.20,"v":-25},{"n":"1c@1c & 3d@3d_217m","c":"O","f":6.25,"v":-27},{"n":"1c@1c & 3d@3d_217m","c":"O","f":6.30,"v":-28},{"n":"1c@1c & 3d@3d_217m","c":"O","f":6.35,"v":-30},{"n":"1c@1c & 3d@3d_217m","c":"O","f":6.40,"v":-34},{"n":"1c@1c & 3d@3d_217m","c":"O","f":6.45,"v":-36},{"n":"1c@1c & 3d@3d_217m","c":"O","f":6.50,"v":-38},{"n":"1c@1c & 3d@3d_217m","c":"O","f":6.55,"v":-35},{"n":"1c@1c & 3d@3d_217m","c":"O","f":6.60,"v":-35},{"n":"1c@1c & 3d@3d_217m","c":"O","f":6.65,"v":-35},{"n":"1c@1c & 3d@3d_217m","c":"O","f":6.70,"v":-32},{"n":"1c@1c & 3d@3d_217m","c":"O","f":6.75,"v":-33},{"n":"1c@1c & 3d@3d_217m","c":"O","f":6.80,"v":-37},{"n":"1c@1c & 3d@3d_217m","c":"O","f":6.84,"v":-40},

{"n":"1c@1c & 3l@3l_257m","c":"P","f":6.16,"v":18},{"n":"1c@1c & 3l@3l_257m","c":"P","f":6.20,"v":9},{"n":"1c@1c & 3l@3l_257m","c":"P","f":6.25,"v":7},{"n":"1c@1c & 3l@3l_257m","c":"P","f":6.30,"v":2},{"n":"1c@1c & 3l@3l_257m","c":"P","f":6.35,"v":-6},{"n":"1c@1c & 3l@3l_257m","c":"P","f":6.40,"v":-10},{"n":"1c@1c & 3l@3l_257m","c":"P","f":6.45,"v":-18},{"n":"1c@1c & 3l@3l_257m","c":"P","f":6.48,"v":-20},{"n":"1c@1c & 3l@3l_257m","c":"P","f":6.51,"v":-12},{"n":"1c@1c & 3l@3l_257m","c":"P","f":6.55,"v":7},{"n":"1c@1c & 3l@3l_257m","c":"P","f":6.60,"v":13},{"n":"1c@1c & 3l@3l_257m","c":"P","f":6.65,"v":13},{"n":"1c@1c & 3l@3l_257m","c":"P","f":6.70,"v":12},{"n":"1c@1c & 3l@3l_257m","c":"P","f":6.75,"v":14},{"n":"1c@1c & 3l@3l_257m","c":"P","f":6.80,"v":13},{"n":"1c@1c & 3l@3l_257m","c":"P","f":6.84,"v":5},
{"n":"1c@1c & 3l@3l_257m","c":"O","f":6.16,"v":-2},{"n":"1c@1c & 3l@3l_257m","c":"O","f":6.20,"v":-3},{"n":"1c@1c & 3l@3l_257m","c":"O","f":6.25,"v":-4},{"n":"1c@1c & 3l@3l_257m","c":"O","f":6.30,"v":-1},{"n":"1c@1c & 3l@3l_257m","c":"O","f":6.35,"v":0},{"n":"1c@1c & 3l@3l_257m","c":"O","f":6.40,"v":5},{"n":"1c@1c & 3l@3l_257m","c":"O","f":6.45,"v":10},{"n":"1c@1c & 3l@3l_257m","c":"O","f":6.50,"v":13},{"n":"1c@1c & 3l@3l_257m","c":"O","f":6.55,"v":20},{"n":"1c@1c & 3l@3l_257m","c":"O","f":6.60,"v":30},{"n":"1c@1c & 3l@3l_257m","c":"O","f":6.65,"v":21},{"n":"1c@1c & 3l@3l_257m","c":"O","f":6.70,"v":18},{"n":"1c@1c & 3l@3l_257m","c":"O","f":6.75,"v":18},{"n":"1c@1c & 3l@3l_257m","c":"O","f":6.80,"v":14},{"n":"1c@1c & 3l@3l_257m","c":"O","f":6.84,"v":7},

{"n":"1c@1c & 4e@4e_243m","c":"P","g":1,"f":6.16,"v":135},{"n":"1c@1c & 4e@4e_243m","c":"P","g":1,"f":6.20,"v":133},{"n":"1c@1c & 4e@4e_243m","c":"P","g":1,"f":6.25,"v":130},{"n":"1c@1c & 4e@4e_243m","c":"P","g":1,"f":6.30,"v":125},{"n":"1c@1c & 4e@4e_243m","c":"P","g":1,"f":6.35,"v":122},{"n":"1c@1c & 4e@4e_243m","c":"P","g":1,"f":6.40,"v":118},{"n":"1c@1c & 4e@4e_243m","c":"P","g":1,"f":6.45,"v":110},{"n":"1c@1c & 4e@4e_243m","c":"P","g":1,"f":6.48,"v":105},{"n":"1c@1c & 4e@4e_243m","c":"P","g":1,"f":6.52,"v":108},{"n":"1c@1c & 4e@4e_243m","c":"P","g":1,"f":6.56,"v":112},{"n":"1c@1c & 4e@4e_243m","c":"P","g":1,"f":6.60,"v":115},{"n":"1c@1c & 4e@4e_243m","c":"P","g":1,"f":6.65,"v":116},{"n":"1c@1c & 4e@4e_243m","c":"P","g":1,"f":6.71,"v":115},
{"n":"1c@1c & 4e@4e_243m","c":"P","g":2,"f":6.728,"v":113},{"n":"1c@1c & 4e@4e_243m","c":"P","g":2,"f":6.76,"v":110},{"n":"1c@1c & 4e@4e_243m","c":"P","g":2,"f":6.80,"v":108},{"n":"1c@1c & 4e@4e_243m","c":"P","g":2,"f":6.84,"v":105},
{"n":"1c@1c & 4e@4e_243m","c":"O","g":1,"f":6.16,"v":138},{"n":"1c@1c & 4e@4e_243m","c":"O","g":1,"f":6.20,"v":134},{"n":"1c@1c & 4e@4e_243m","c":"O","g":1,"f":6.25,"v":130},{"n":"1c@1c & 4e@4e_243m","c":"O","g":1,"f":6.30,"v":126},{"n":"1c@1c & 4e@4e_243m","c":"O","g":1,"f":6.35,"v":123},{"n":"1c@1c & 4e@4e_243m","c":"O","g":1,"f":6.40,"v":120},{"n":"1c@1c & 4e@4e_243m","c":"O","g":1,"f":6.45,"v":115},{"n":"1c@1c & 4e@4e_243m","c":"O","g":1,"f":6.48,"v":112},{"n":"1c@1c & 4e@4e_243m","c":"O","g":1,"f":6.52,"v":118},{"n":"1c@1c & 4e@4e_243m","c":"O","g":1,"f":6.56,"v":123},{"n":"1c@1c & 4e@4e_243m","c":"O","g":1,"f":6.60,"v":130},{"n":"1c@1c & 4e@4e_243m","c":"O","g":1,"f":6.65,"v":133},{"n":"1c@1c & 4e@4e_243m","c":"O","g":1,"f":6.71,"v":133},
{"n":"1c@1c & 4e@4e_243m","c":"O","g":2,"f":6.728,"v":133},{"n":"1c@1c & 4e@4e_243m","c":"O","g":2,"f":6.76,"v":132},{"n":"1c@1c & 4e@4e_243m","c":"O","g":2,"f":6.80,"v":130},{"n":"1c@1c & 4e@4e_243m","c":"O","g":2,"f":6.84,"v":128},

{"n":"1c@1c & 4g@4g_262m","c":"P","f":6.16,"v":-16},{"n":"1c@1c & 4g@4g_262m","c":"P","f":6.20,"v":-21},{"n":"1c@1c & 4g@4g_262m","c":"P","f":6.25,"v":-27},{"n":"1c@1c & 4g@4g_262m","c":"P","f":6.30,"v":-32},{"n":"1c@1c & 4g@4g_262m","c":"P","f":6.35,"v":-35},{"n":"1c@1c & 4g@4g_262m","c":"P","f":6.40,"v":-39},{"n":"1c@1c & 4g@4g_262m","c":"P","f":6.45,"v":-44},{"n":"1c@1c & 4g@4g_262m","c":"P","f":6.50,"v":-39},{"n":"1c@1c & 4g@4g_262m","c":"P","f":6.53,"v":-24},{"n":"1c@1c & 4g@4g_262m","c":"P","f":6.57,"v":-22},{"n":"1c@1c & 4g@4g_262m","c":"P","f":6.60,"v":-24},{"n":"1c@1c & 4g@4g_262m","c":"P","f":6.65,"v":-30},{"n":"1c@1c & 4g@4g_262m","c":"P","f":6.70,"v":-32},{"n":"1c@1c & 4g@4g_262m","c":"P","f":6.75,"v":-31},{"n":"1c@1c & 4g@4g_262m","c":"P","f":6.80,"v":-32},{"n":"1c@1c & 4g@4g_262m","c":"P","f":6.84,"v":-30},
{"n":"1c@1c & 4g@4g_262m","c":"O","f":6.16,"v":-8},{"n":"1c@1c & 4g@4g_262m","c":"O","f":6.20,"v":-8},{"n":"1c@1c & 4g@4g_262m","c":"O","f":6.25,"v":-10},{"n":"1c@1c & 4g@4g_262m","c":"O","f":6.30,"v":-12},{"n":"1c@1c & 4g@4g_262m","c":"O","f":6.35,"v":-14},{"n":"1c@1c & 4g@4g_262m","c":"O","f":6.40,"v":-19},{"n":"1c@1c & 4g@4g_262m","c":"O","f":6.45,"v":-25},{"n":"1c@1c & 4g@4g_262m","c":"O","f":6.48,"v":-25},{"n":"1c@1c & 4g@4g_262m","c":"O","f":6.52,"v":-13},{"n":"1c@1c & 4g@4g_262m","c":"O","f":6.56,"v":-15},{"n":"1c@1c & 4g@4g_262m","c":"O","f":6.60,"v":-19},{"n":"1c@1c & 4g@4g_262m","c":"O","f":6.65,"v":-25},{"n":"1c@1c & 4g@4g_262m","c":"O","f":6.70,"v":-25},{"n":"1c@1c & 4g@4g_262m","c":"O","f":6.75,"v":-26},{"n":"1c@1c & 4g@4g_262m","c":"O","f":6.80,"v":-27},{"n":"1c@1c & 4g@4g_262m","c":"O","f":6.84,"v":-28},

{"n":"1c@1c & 4j@4j_289m","c":"P","f":6.16,"v":-140},{"n":"1c@1c & 4j@4j_289m","c":"P","f":6.20,"v":-143},{"n":"1c@1c & 4j@4j_289m","c":"P","f":6.25,"v":-145},{"n":"1c@1c & 4j@4j_289m","c":"P","f":6.30,"v":-148},{"n":"1c@1c & 4j@4j_289m","c":"P","f":6.35,"v":-150},{"n":"1c@1c & 4j@4j_289m","c":"P","f":6.40,"v":-150},{"n":"1c@1c & 4j@4j_289m","c":"P","f":6.45,"v":-153},{"n":"1c@1c & 4j@4j_289m","c":"P","f":6.50,"v":-155},{"n":"1c@1c & 4j@4j_289m","c":"P","f":6.53,"v":-155},{"n":"1c@1c & 4j@4j_289m","c":"P","f":6.57,"v":-150},{"n":"1c@1c & 4j@4j_289m","c":"P","f":6.60,"v":-148},{"n":"1c@1c & 4j@4j_289m","c":"P","f":6.65,"v":-150},{"n":"1c@1c & 4j@4j_289m","c":"P","f":6.70,"v":-150},{"n":"1c@1c & 4j@4j_289m","c":"P","f":6.75,"v":-148},{"n":"1c@1c & 4j@4j_289m","c":"P","f":6.80,"v":-150},{"n":"1c@1c & 4j@4j_289m","c":"P","f":6.84,"v":-152},
{"n":"1c@1c & 4j@4j_289m","c":"O","f":6.16,"v":-143},{"n":"1c@1c & 4j@4j_289m","c":"O","f":6.20,"v":-142},{"n":"1c@1c & 4j@4j_289m","c":"O","f":6.25,"v":-142},{"n":"1c@1c & 4j@4j_289m","c":"O","f":6.30,"v":-143},{"n":"1c@1c & 4j@4j_289m","c":"O","f":6.35,"v":-143},{"n":"1c@1c & 4j@4j_289m","c":"O","f":6.40,"v":-145},{"n":"1c@1c & 4j@4j_289m","c":"O","f":6.45,"v":-147},{"n":"1c@1c & 4j@4j_289m","c":"O","f":6.50,"v":-150},{"n":"1c@1c & 4j@4j_289m","c":"O","f":6.55,"v":-147},{"n":"1c@1c & 4j@4j_289m","c":"O","f":6.60,"v":-146},{"n":"1c@1c & 4j@4j_289m","c":"O","f":6.65,"v":-145},{"n":"1c@1c & 4j@4j_289m","c":"O","f":6.70,"v":-144},{"n":"1c@1c & 4j@4j_289m","c":"O","f":6.75,"v":-145},{"n":"1c@1c & 4j@4j_289m","c":"O","f":6.80,"v":-148},{"n":"1c@1c & 4j@4j_289m","c":"O","f":6.84,"v":-152},

{"n":"1c@1c & 5b@5b_293m","c":"P","f":6.16,"v":-60},{"n":"1c@1c & 5b@5b_293m","c":"P","f":6.20,"v":-58},{"n":"1c@1c & 5b@5b_293m","c":"P","f":6.25,"v":-55},{"n":"1c@1c & 5b@5b_293m","c":"P","f":6.30,"v":-58},{"n":"1c@1c & 5b@5b_293m","c":"P","f":6.35,"v":-60},{"n":"1c@1c & 5b@5b_293m","c":"P","f":6.40,"v":-61},{"n":"1c@1c & 5b@5b_293m","c":"P","f":6.45,"v":-62},{"n":"1c@1c & 5b@5b_293m","c":"P","f":6.50,"v":-60},{"n":"1c@1c & 5b@5b_293m","c":"P","f":6.55,"v":-58},{"n":"1c@1c & 5b@5b_293m","c":"P","f":6.60,"v":-55},{"n":"1c@1c & 5b@5b_293m","c":"P","f":6.65,"v":-52},{"n":"1c@1c & 5b@5b_293m","c":"P","f":6.70,"v":-51},{"n":"1c@1c & 5b@5b_293m","c":"P","f":6.75,"v":-50},{"n":"1c@1c & 5b@5b_293m","c":"P","f":6.80,"v":-51},{"n":"1c@1c & 5b@5b_293m","c":"P","f":6.84,"v":-52},
{"n":"1c@1c & 5b@5b_293m","c":"O","f":6.16,"v":-40},{"n":"1c@1c & 5b@5b_293m","c":"O","f":6.20,"v":-39},{"n":"1c@1c & 5b@5b_293m","c":"O","f":6.25,"v":-38},{"n":"1c@1c & 5b@5b_293m","c":"O","f":6.30,"v":-39},{"n":"1c@1c & 5b@5b_293m","c":"O","f":6.35,"v":-40},{"n":"1c@1c & 5b@5b_293m","c":"O","f":6.40,"v":-43},{"n":"1c@1c & 5b@5b_293m","c":"O","f":6.45,"v":-45},{"n":"1c@1c & 5b@5b_293m","c":"O","f":6.50,"v":-45},{"n":"1c@1c & 5b@5b_293m","c":"O","f":6.55,"v":-44},{"n":"1c@1c & 5b@5b_293m","c":"O","f":6.60,"v":-38},{"n":"1c@1c & 5b@5b_293m","c":"O","f":6.65,"v":-42},{"n":"1c@1c & 5b@5b_293m","c":"O","f":6.70,"v":-44},{"n":"1c@1c & 5b@5b_293m","c":"O","f":6.75,"v":-45},{"n":"1c@1c & 5b@5b_293m","c":"O","f":6.80,"v":-45},{"n":"1c@1c & 5b@5b_293m","c":"O","f":6.84,"v":-48},

{"n":"1e@1e & 1g@1g_36m","c":"P","f":6.16,"v":145},{"n":"1e@1e & 1g@1g_36m","c":"P","f":6.20,"v":143},{"n":"1e@1e & 1g@1g_36m","c":"P","f":6.25,"v":142},{"n":"1e@1e & 1g@1g_36m","c":"P","f":6.30,"v":141},{"n":"1e@1e & 1g@1g_36m","c":"P","f":6.35,"v":140},{"n":"1e@1e & 1g@1g_36m","c":"P","f":6.40,"v":140},{"n":"1e@1e & 1g@1g_36m","c":"P","f":6.45,"v":140},{"n":"1e@1e & 1g@1g_36m","c":"P","f":6.50,"v":139},{"n":"1e@1e & 1g@1g_36m","c":"P","f":6.55,"v":138},{"n":"1e@1e & 1g@1g_36m","c":"P","f":6.60,"v":137},{"n":"1e@1e & 1g@1g_36m","c":"P","f":6.65,"v":137},{"n":"1e@1e & 1g@1g_36m","c":"P","f":6.70,"v":135},{"n":"1e@1e & 1g@1g_36m","c":"P","f":6.74,"v":140},{"n":"1e@1e & 1g@1g_36m","c":"P","f":6.78,"v":139},{"n":"1e@1e & 1g@1g_36m","c":"P","f":6.82,"v":138},{"n":"1e@1e & 1g@1g_36m","c":"P","f":6.84,"v":133},
{"n":"1e@1e & 1g@1g_36m","c":"O","f":6.16,"v":-143},{"n":"1e@1e & 1g@1g_36m","c":"O","f":6.20,"v":-141},{"n":"1e@1e & 1g@1g_36m","c":"O","f":6.25,"v":-140},{"n":"1e@1e & 1g@1g_36m","c":"O","f":6.30,"v":-140},{"n":"1e@1e & 1g@1g_36m","c":"O","f":6.35,"v":-141},{"n":"1e@1e & 1g@1g_36m","c":"O","f":6.40,"v":-143},{"n":"1e@1e & 1g@1g_36m","c":"O","f":6.45,"v":-138},{"n":"1e@1e & 1g@1g_36m","c":"O","f":6.50,"v":-134},{"n":"1e@1e & 1g@1g_36m","c":"O","f":6.55,"v":-132},{"n":"1e@1e & 1g@1g_36m","c":"O","f":6.60,"v":-131},{"n":"1e@1e & 1g@1g_36m","c":"O","f":6.65,"v":-130},{"n":"1e@1e & 1g@1g_36m","c":"O","f":6.70,"v":-132},{"n":"1e@1e & 1g@1g_36m","c":"O","f":6.73,"v":-130},{"n":"1e@1e & 1g@1g_36m","c":"O","f":6.745,"v":-122},{"n":"1e@1e & 1g@1g_36m","c":"O","f":6.76,"v":-130},{"n":"1e@1e & 1g@1g_36m","c":"O","f":6.80,"v":-130},{"n":"1e@1e & 1g@1g_36m","c":"O","f":6.84,"v":-132}
]},
"facet": {
  "field": "n", "type": "nominal", "title": null,
  "sort": ["1c@1c & 1e@1e_41m","1c@1c & 1g@1g_76m","1c@1c & 1h@1h_105m","1c@1c & 1k@1k_96m","1c@1c & 2a@2a_160m","1c@1c & 2b@2b_152m","1c@1c & 2c@2c_124m","1c@1c & 2e@2e_128m","1c@1c & 2h@2h_156m","1c@1c & 2j@2j_163m","1c@1c & 2k@2k_164m","1c@1c & 2l@2l_155m","1c@1c & 2m@2m_148m","1c@1c & 3d@3d_217m","1c@1c & 3l@3l_257m","1c@1c & 4e@4e_243m","1c@1c & 4g@4g_262m","1c@1c & 4j@4j_289m","1c@1c & 5b@5b_293m","1e@1e & 1g@1g_36m"],
  "header": {"labelExpr": "['Phase vs. Frequency Baseline:', datum.value]", "labelFont": "DejaVu Sans", "labelFontSize": 12, "labelFontWeight": "bold", "labelColor": "#000000", "labelPadding": -2, "labelLineHeight": 13.5, "labelAnchor": "middle"}
},
"columns": 4,
"spacing": {"row": 68, "column": 63},
"bounds": "flush",
"resolve": {"axis": {"x": "independent", "y": "independent"}},
"spec": {
  "width": 207,
  "height": 105,
  "mark": {"type": "line", "strokeWidth": 5, "strokeJoin": "round", "clip": true},
  "encoding": {
    "x": {"field": "f", "type": "quantitative", "title": "Frequency (GHz) LSRK",
      "scale": {"domain": [6.087, 6.959], "nice": false, "zero": false},
      "axis": {"values": [6.1,6.12,6.14,6.16,6.18,6.2,6.22,6.24,6.26,6.28,6.3,6.32,6.34,6.36,6.38,6.4,6.42,6.44,6.46,6.48,6.5,6.52,6.54,6.56,6.58,6.6,6.62,6.64,6.66,6.68,6.7,6.72,6.74,6.76,6.78,6.8,6.82,6.84,6.86,6.88,6.9],
        "labelExpr": "abs(datum.value*10 - round(datum.value*10)) < 0.001 ? format(datum.value, '.2f') : ''",
        "tickSize": {"condition": {"test": "abs(datum.value*10 - round(datum.value*10)) < 0.001", "value": 4}, "value": 2},
        "labelPadding": 2, "titlePadding": 2, "labelOverlap": false, "labelFlush": false}},
    "y": {"field": "v", "type": "quantitative", "title": "Phase (degrees)",
      "scale": {"domain": [-174, 180], "nice": false, "zero": false},
      "axis": {"values": [-170,-160,-150,-140,-130,-120,-110,-100,-90,-80,-70,-60,-50,-40,-30,-20,-10,0,10,20,30,40,50,60,70,80,90,100,110,120,130,140,150,160,170,180],
        "labelExpr": "(datum.value % 50 == 0 && abs(datum.value) <= 150) ? '' + datum.value : ''",
        "tickSize": {"condition": {"test": "datum.value % 50 == 0", "value": 4}, "value": 2},
        "labelPadding": 2, "titlePadding": 13, "labelOverlap": false, "labelFlush": false}},
    "color": {"field": "c", "type": "nominal", "scale": {"domain": ["P", "O"], "range": ["#a660e0", "#e8700a"]}, "legend": null},
    "detail": {"field": "g", "type": "nominal"}
  }
},
"config": {
  "view": {"fill": "#ffffff", "stroke": null},
  "axis": {"grid": false, "offset": 3, "labelFont": "DejaVu Sans", "labelFontSize": 11, "labelColor": "#222222", "titleFont": "DejaVu Sans", "titleFontSize": 11, "titleFontWeight": "bold", "titleColor": "#000000", "tickColor": "#333333", "domainColor": "#333333", "tickWidth": 1, "domainWidth": 1}
}
}
